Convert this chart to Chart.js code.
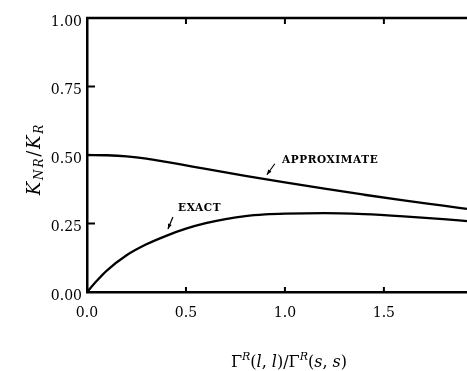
<!DOCTYPE html>
<html>
<head>
<meta charset="utf-8">
<script src="https://cdn.jsdelivr.net/npm/chart.js@4/dist/chart.umd.min.js"></script>
<style>
html, body { margin: 0; padding: 0; background: #fff; }
#wrap { width: 467px; height: 371px; }
</style>
</head>
<body>
<div id="wrap"><canvas id="kChart"></canvas></div>
<script>
// values
const approxX = [0, 0.1, 0.2, 0.3, 0.4, 0.5, 0.6, 0.8, 1.0, 1.2, 1.4, 1.6, 1.8, 1.92];
const approxY = [0.500, 0.499, 0.495, 0.487, 0.475, 0.462, 0.449, 0.424, 0.400, 0.377, 0.355, 0.334, 0.315, 0.303];

const exactX = [0, 0.05, 0.1, 0.2, 0.3, 0.4, 0.5, 0.6, 0.7, 0.8, 0.9, 1.0, 1.2, 1.4, 1.6, 1.8, 1.92];
const exactY = [0, 0.041, 0.078, 0.134, 0.174, 0.205, 0.231, 0.251, 0.266, 0.277, 0.283, 0.286, 0.288, 0.284, 0.276, 0.266, 0.259];

const xTicks = [0, 0.5, 1.0, 1.5];
const yTicks = [0, 0.25, 0.5, 0.75, 1.0];

// annotation anchors in data units
const labelApprox = { text: 'APPROXIMATE', x: 0.985, y: 0.479, from: [0.949, 0.468], to: [0.909, 0.428] };
const labelExact = { text: 'EXACT', x: 0.46, y: 0.307, from: [0.434, 0.274], to: [0.409, 0.230] };

const serif = '"DejaVu Serif", "Liberation Serif", serif';

function toPoints(xs, ys) {
    return xs.map((x, i) => ({ x: x, y: ys[i] }));
}

function drawRuns(ctx, runs, cx, baseY) {
    let total = 0;
    runs.forEach(r => {
        ctx.font = r.font;
        r.w = ctx.measureText(r.t).width;
        total += r.w + (r.gap || 0);
    });
    let x = cx - total / 2;
    runs.forEach(r => {
        ctx.font = r.font;
        ctx.fillText(r.t, x, baseY + (r.dy || 0));
        x += r.w + (r.gap || 0);
    });
}

function drawArrow(ctx, x1, y1, x2, y2) {
    ctx.beginPath();
    ctx.moveTo(x1, y1);
    ctx.lineTo(x2, y2);
    ctx.lineWidth = 1.2;
    ctx.stroke();
    const a = Math.atan2(y2 - y1, x2 - x1);
    ctx.beginPath();
    ctx.moveTo(x2, y2);
    ctx.lineTo(x2 - 5 * Math.cos(a) + 2 * Math.sin(a), y2 - 5 * Math.sin(a) - 2 * Math.cos(a));
    ctx.lineTo(x2 - 5 * Math.cos(a) - 2 * Math.sin(a), y2 - 5 * Math.sin(a) + 2 * Math.cos(a));
    ctx.closePath();
    ctx.fill();
}

const frameAndText = {
    id: 'frameAndText',
    afterDraw(chart) {
        const ctx = chart.ctx;
        const area = chart.chartArea;
        const xs = chart.scales.x;
        const ys = chart.scales.y;
        ctx.save();
        ctx.strokeStyle = '#000';
        ctx.fillStyle = '#000';

        // top frame line
        ctx.lineWidth = 2.5;
        ctx.beginPath();
        ctx.moveTo(area.left - 1, area.top);
        ctx.lineTo(area.right, area.top);
        ctx.stroke();

        // inward ticks
        ctx.lineWidth = 2;
        xTicks.slice(1).forEach(v => {
            const px = xs.getPixelForValue(v);
            ctx.beginPath();
            ctx.moveTo(px, area.bottom);
            ctx.lineTo(px, area.bottom - 5);
            ctx.moveTo(px, area.top);
            ctx.lineTo(px, area.top + 6);
            ctx.stroke();
        });
        yTicks.slice(1, -1).forEach(v => {
            const py = ys.getPixelForValue(v);
            ctx.beginPath();
            ctx.moveTo(area.left, py);
            ctx.lineTo(area.left + 8, py);
            ctx.stroke();
        });

        // curve labels
        ctx.textBaseline = 'middle';
        ctx.textAlign = 'left';
        ctx.font = 'bold 10.5px ' + serif;
        ctx.letterSpacing = '0.6px';
        [labelApprox, labelExact].forEach(l => {
            ctx.fillText(l.text, xs.getPixelForValue(l.x), ys.getPixelForValue(l.y));
            drawArrow(ctx,
                xs.getPixelForValue(l.from[0]), ys.getPixelForValue(l.from[1]),
                xs.getPixelForValue(l.to[0]), ys.getPixelForValue(l.to[1]));
        });
        ctx.letterSpacing = '0px';

        // x axis title
        ctx.textBaseline = 'alphabetic';
        const big = '16px ' + serif;
        const ital = 'italic 16px ' + serif;
        const sup = 'italic 11px ' + serif;
        drawRuns(ctx, [
            { t: 'Γ', font: big },
            { t: 'R', font: sup, dy: -7 },
            { t: '(', font: big },
            { t: 'l', font: ital },
            { t: ', ', font: big },
            { t: 'l', font: ital },
            { t: ')/', font: big },
            { t: 'Γ', font: big },
            { t: 'R', font: sup, dy: -7 },
            { t: '(', font: big },
            { t: 's', font: ital },
            { t: ', ', font: big },
            { t: 's', font: ital },
            { t: ')', font: big }
        ], 289, 367);

        // y axis title
        ctx.translate(34, 159);
        ctx.rotate(-Math.PI / 2);
        ctx.letterSpacing = '1.8px';
        const kFont = 'italic 18px ' + serif;
        const subFont = 'italic 12px ' + serif;
        drawRuns(ctx, [
            { t: 'K', font: kFont },
            { t: 'NR', font: subFont, dy: 3 },
            { t: '/', font: '18px ' + serif },
            { t: 'K', font: kFont },
            { t: 'R', font: subFont, dy: 3 }
        ], 0, 6);
        ctx.restore();
    }
};

const tickFont = { family: serif, size: 14 };

new Chart(document.getElementById('kChart'), {
    type: 'scatter',
    data: {
        datasets: [
            {
                label: 'APPROXIMATE',
                data: toPoints(approxX, approxY),
                showLine: true,
                borderColor: '#000',
                borderWidth: 2.3,
                pointRadius: 0,
                cubicInterpolationMode: 'monotone'
            },
            {
                label: 'EXACT',
                data: toPoints(exactX, exactY),
                showLine: true,
                borderColor: '#000',
                borderWidth: 2.3,
                pointRadius: 0,
                cubicInterpolationMode: 'monotone'
            }
        ]
    },
    options: {
        responsive: true,
        maintainAspectRatio: false,
        animation: false,
        layout: { padding: { top: 18, right: 0, left: 0, bottom: 0 } },
        plugins: {
            legend: { display: false },
            tooltip: { enabled: false }
        },
        scales: {
            x: {
                type: 'linear',
                min: 0,
                max: 1.92,
                afterBuildTicks: scale => { scale.ticks = xTicks.map(v => ({ value: v })); },
                afterFit: scale => { scale.height = 79; },
                ticks: {
                    callback: v => v.toFixed(1),
                    font: tickFont,
                    color: '#000',
                    padding: 13,
                    maxRotation: 0,
                    autoSkip: false
                },
                grid: { display: false, drawTicks: false },
                border: { display: true, color: '#000', width: 2.5 }
            },
            y: {
                type: 'linear',
                min: 0,
                max: 1,
                afterBuildTicks: scale => { scale.ticks = yTicks.map(v => ({ value: v })); },
                afterFit: scale => { scale.width = 87; },
                ticks: {
                    callback: v => v.toFixed(2),
                    font: tickFont,
                    color: '#000',
                    padding: 5,
                    labelOffset: 4,
                    autoSkip: false
                },
                grid: { display: false, drawTicks: false },
                border: { display: true, color: '#000', width: 2.5 }
            }
        }
    },
    plugins: [frameAndText]
});
</script>
</body>
</html>
